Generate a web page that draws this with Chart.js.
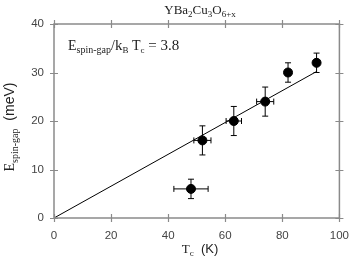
<!DOCTYPE html>
<html><head><meta charset="utf-8">
<script src="https://cdn.jsdelivr.net/npm/chart.js@4"></script>
<style>html,body{margin:0;padding:0;background:#fff}canvas{display:block}</style>
</head><body>
<canvas id="c" width="360" height="264"></canvas>
<script>
// Data
const tcValues = [48, 52, 63, 74, 82, 92];
const gapValues = [6, 16, 20, 24, 30, 32];
const tcErrors = [6, 3, 2.7, 3, 1, 1];
const gapErrors = [2, 3, 3, 3, 2, 2];
const fitX = [0, 92];
const fitY = [0, 30.2];
const xTicks = [0, 20, 40, 60, 80, 100];
const yTicks = [0, 10, 20, 30, 40];

const AXIS = '#8a8a8a';
const SERIF = '"Liberation Serif", "DejaVu Serif", serif';
const SANS = '"Liberation Sans", Arial, sans-serif';

function drawRich(ctx, parts, x, y) {
  let cx = x;
  for (const p of parts) {
    ctx.font = p[1] + 'px ' + (p[3] || SERIF);
    ctx.fillText(p[0], cx, y + (p[2] || 0));
    cx += ctx.measureText(p[0]).width;
  }
  return cx - x;
}
function richWidth(ctx, parts) {
  let w = 0;
  for (const p of parts) { ctx.font = p[1] + 'px ' + (p[3] || SERIF); w += ctx.measureText(p[0]).width; }
  return w;
}

const framePlugin = {
  id: 'frame',
  afterDatasetsDraw(chart) {
    const {ctx, chartArea: a, scales} = chart;
    const xs = scales.x, ys = scales.y;
    ctx.save();
    ctx.strokeStyle = '#000';
    ctx.lineWidth = 1;
    for (let i = 0; i < tcValues.length; i++) {
      const px = xs.getPixelForValue(tcValues[i]);
      const py = ys.getPixelForValue(gapValues[i]);
      const x1 = xs.getPixelForValue(tcValues[i] - tcErrors[i]);
      const x2 = xs.getPixelForValue(tcValues[i] + tcErrors[i]);
      const y1 = ys.getPixelForValue(gapValues[i] - gapErrors[i]);
      const y2 = ys.getPixelForValue(gapValues[i] + gapErrors[i]);
      const c = 3;
      ctx.beginPath();
      ctx.moveTo(x1, py); ctx.lineTo(x2, py);
      ctx.moveTo(x1, py - c); ctx.lineTo(x1, py + c);
      ctx.moveTo(x2, py - c); ctx.lineTo(x2, py + c);
      ctx.moveTo(px, y1); ctx.lineTo(px, y2);
      ctx.moveTo(px - c, y1); ctx.lineTo(px + c, y1);
      ctx.moveTo(px - c, y2); ctx.lineTo(px + c, y2);
      ctx.stroke();
    }
    ctx.strokeStyle = AXIS;
    ctx.lineWidth = 1.5;
    ctx.strokeRect(a.left, a.top, a.right - a.left, a.bottom - a.top);
    ctx.lineWidth = 1.2;
    const t = 4;
    ctx.beginPath();
    for (const v of xTicks) {
      const p = Math.round(xs.getPixelForValue(v)) + 0.5;
      ctx.moveTo(p, a.bottom - t); ctx.lineTo(p, a.bottom + t);
      ctx.moveTo(p, a.top - t); ctx.lineTo(p, a.top + t);
    }
    for (const v of yTicks) {
      const p = Math.round(ys.getPixelForValue(v)) + 0.5;
      ctx.moveTo(a.left - t, p); ctx.lineTo(a.left + t, p);
      ctx.moveTo(a.right - t, p); ctx.lineTo(a.right + t, p);
    }
    ctx.stroke();

    ctx.fillStyle = '#222';
    ctx.textBaseline = 'alphabetic';
    ctx.textAlign = 'left';
    const title = [['YBa',13],['2',9,3],['Cu',13],['3',9,3],['O',13],['6+x',9,3]];
    const tw = richWidth(ctx, title);
    drawRich(ctx, title, 200 - tw / 2, 14);
    drawRich(ctx, [['E',14],['spin-gap',10,3],['/',14],['k',15],['B',9,3],[' T',14],['c',9,3],[' = 3.8',15]], 68, 50);
    const xt = [['T',13],['c',9,3],['  (K)',13,0,SANS]];
    const xw = richWidth(ctx, xt);
    drawRich(ctx, xt, 200 - xw / 2, 253);
    ctx.save();
    ctx.translate(14, 0);
    ctx.rotate(-Math.PI / 2);
    const yt = [['E',14],['spin-gap',10,4],['  (meV)',14,0,SANS]];
    const yw = richWidth(ctx, yt);
    drawRich(ctx, yt, -(127 + yw / 2), 0);
    ctx.restore();
    ctx.restore();
  }
};

new Chart(document.getElementById('c'), {
  type: 'scatter',
  data: {
    datasets: [
      {
        type: 'line',
        data: fitX.map((x, i) => ({x, y: fitY[i]})),
        borderColor: '#000', borderWidth: 1, pointRadius: 0, fill: false, order: 2
      },
      {
        data: tcValues.map((x, i) => ({x, y: gapValues[i]})),
        backgroundColor: '#000', borderColor: '#000', pointRadius: 4.5, order: 1
      }
    ]
  },
  options: {
    responsive: false, animation: false,
    layout: {padding: {top: 24, right: 8.4, left: 0, bottom: 0}},
    plugins: {legend: {display: false}, tooltip: {enabled: false}},
    scales: {
      x: {
        type: 'linear', min: 0, max: 100,
        afterFit(s) { s.height = 46; },
        afterBuildTicks(s) { s.ticks = xTicks.map(v => ({value: v})); },
        grid: {display: false, drawTicks: false}, border: {display: false},
        ticks: {padding: 11, color: '#444', font: {family: SANS, size: 11.5}}
      },
      y: {
        type: 'linear', min: 0, max: 40,
        afterFit(s) { s.width = 54; },
        afterBuildTicks(s) { s.ticks = yTicks.map(v => ({value: v})); },
        grid: {display: false, drawTicks: false}, border: {display: false},
        ticks: {padding: 10, color: '#444', font: {family: SANS, size: 11.5}}
      }
    }
  },
  plugins: [framePlugin]
});
</script>
</body></html>
